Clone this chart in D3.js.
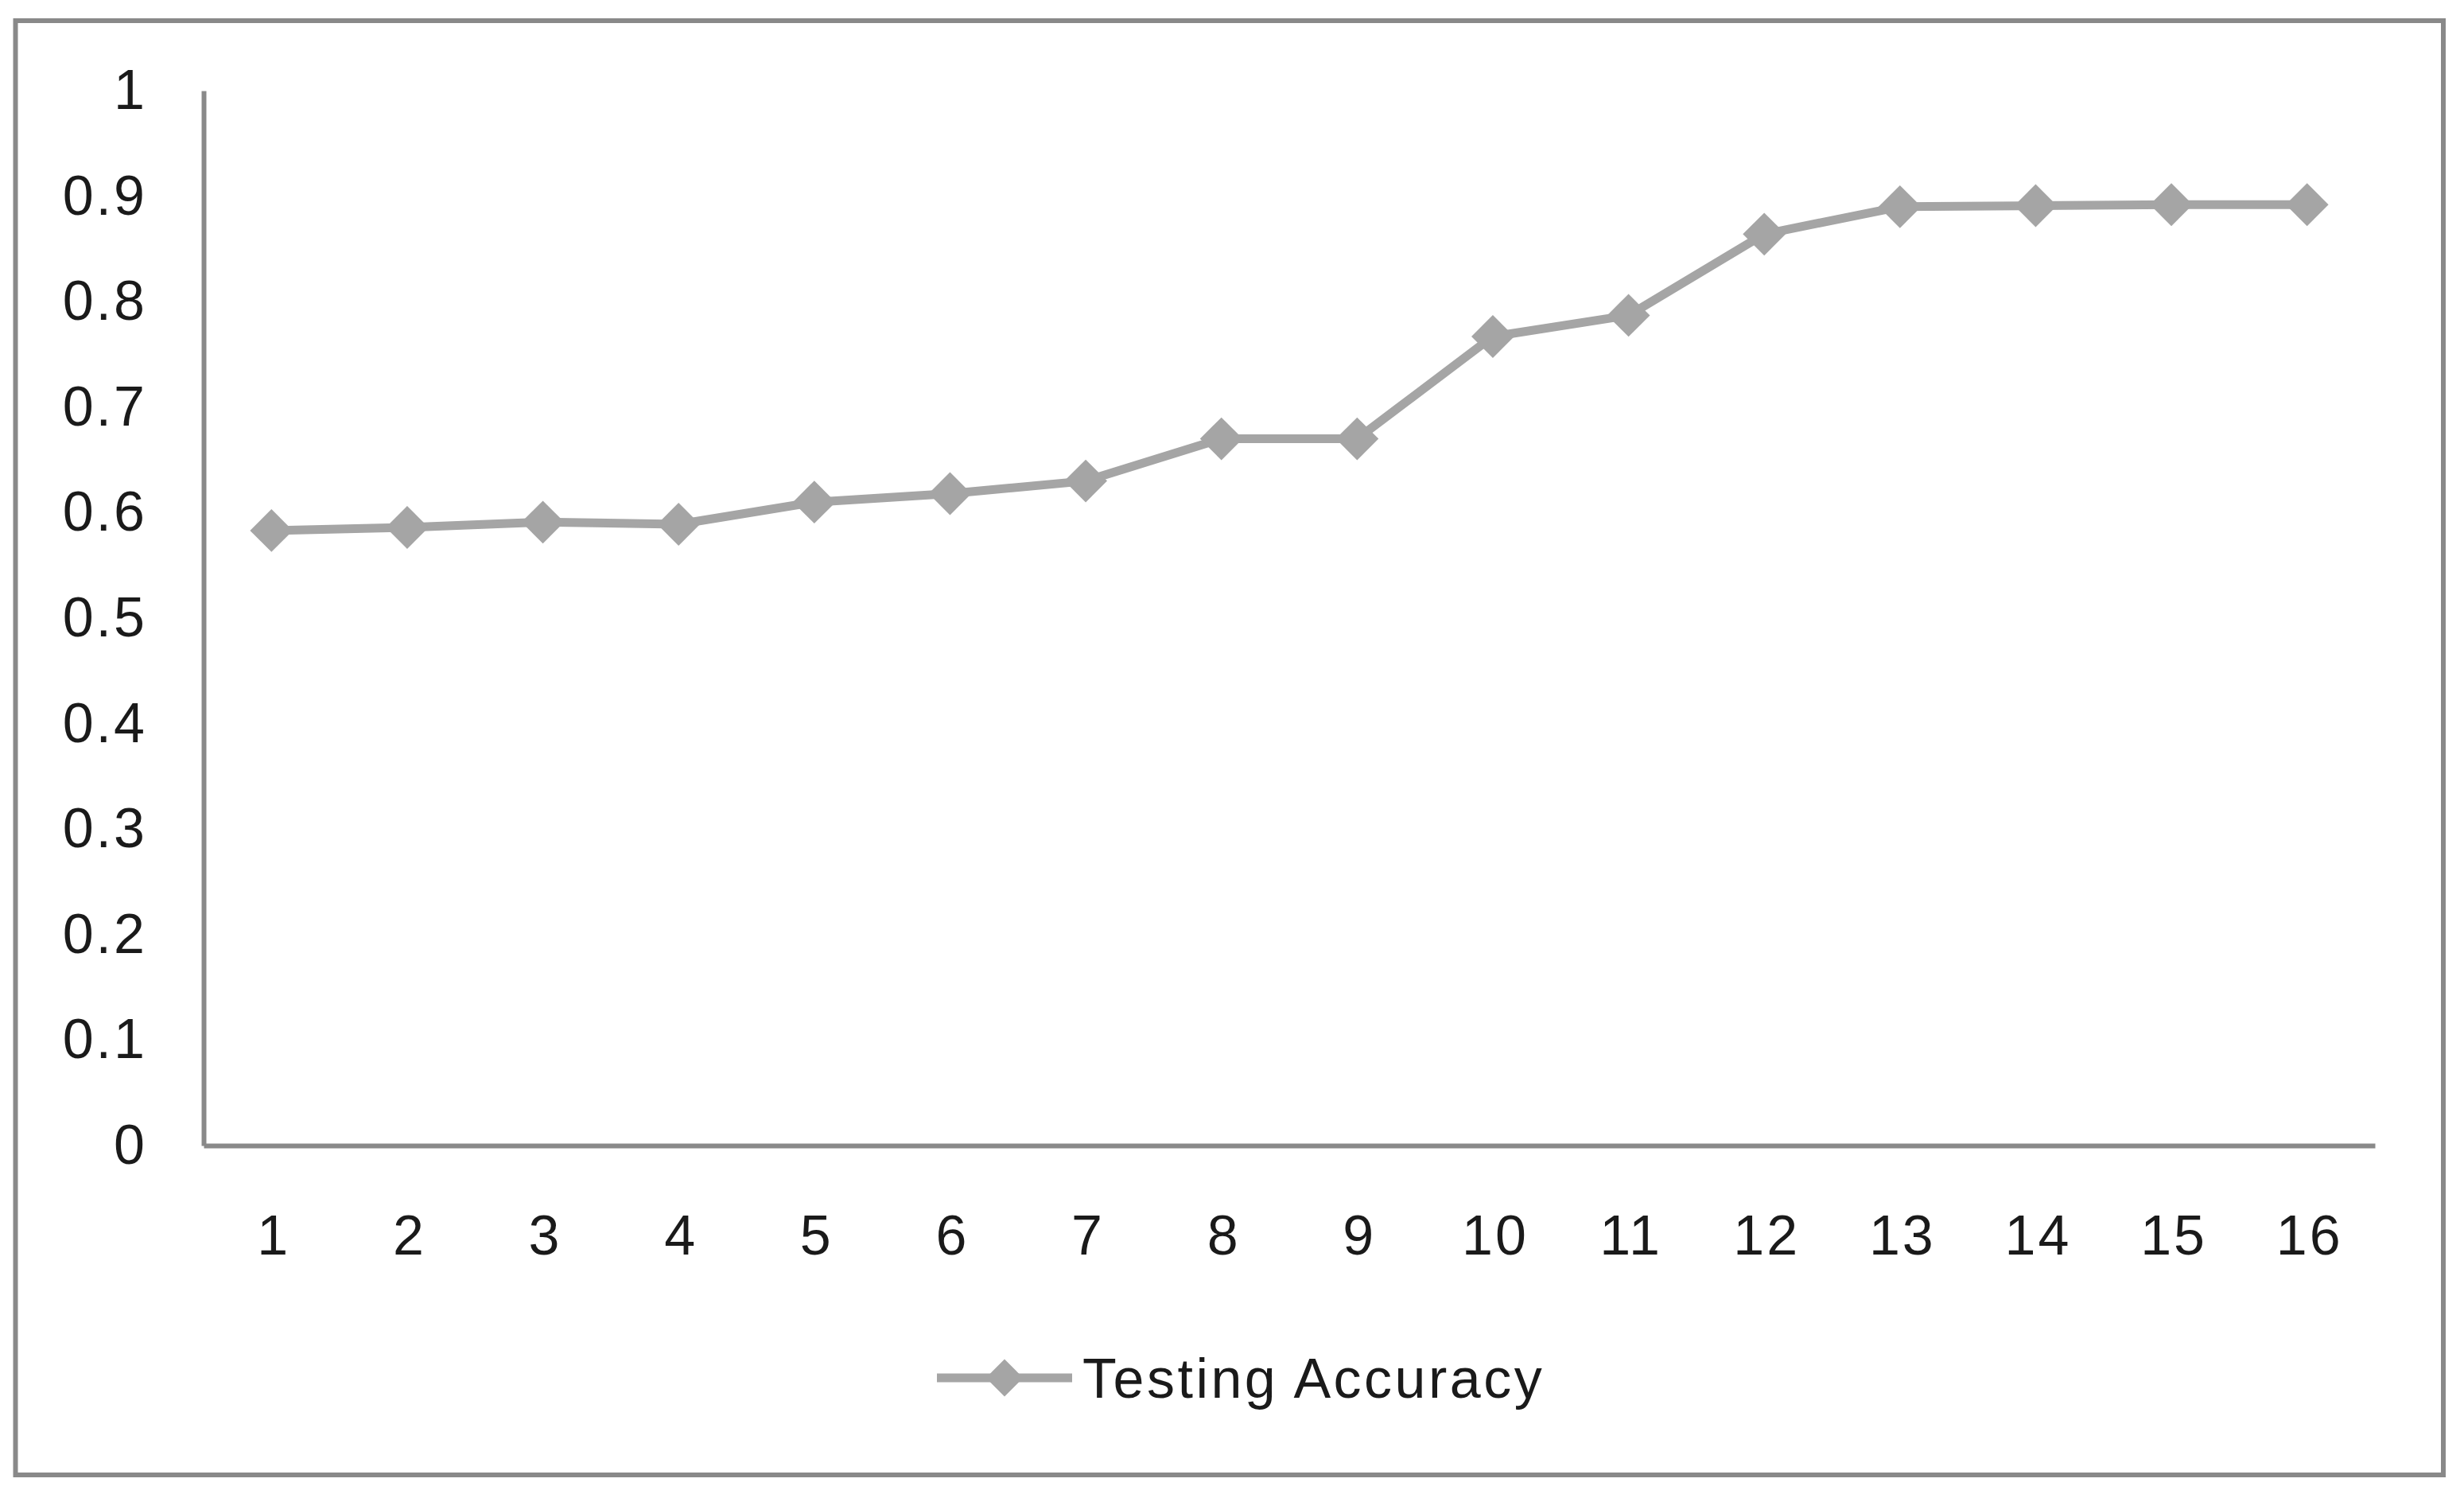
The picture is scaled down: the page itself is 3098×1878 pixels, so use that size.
<!DOCTYPE html>
<html>
<head>
<meta charset="utf-8">
<script src="https://cdn.jsdelivr.net/npm/d3@7"></script>
<style>
  html, body { margin: 0; padding: 0; background: #fff; }
  svg { display: block; }
</style>
</head>
<body>
<script>
const categories = ["1","2","3","4","5","6","7","8","9","10","11","12","13","14","15","16"];
const seriesName = "Testing Accuracy";
const testingAccuracy = [0.583, 0.586, 0.591, 0.589, 0.610, 0.618, 0.630, 0.670, 0.670, 0.767, 0.787, 0.864, 0.890, 0.891, 0.892, 0.892];
const yTicks = [0, 0.1, 0.2, 0.3, 0.4, 0.5, 0.6, 0.7, 0.8, 0.9, 1];
const yTickLabels = ["0","0.1","0.2","0.3","0.4","0.5","0.6","0.7","0.8","0.9","1"];

const W = 3098, H = 1878;
const axisColor = "#898989";
const seriesColor = "#a5a5a5";
const fontFamily = "'Liberation Sans', Arial, sans-serif";
const fontSize = 70;
const textColor = "#1a1a1a";

const svg = d3.select("body").append("svg")
  .attr("width", W).attr("height", H);

svg.append("rect").attr("width", W).attr("height", H).attr("fill", "#fff");

// outer frame
svg.append("rect")
  .attr("x", 19.5).attr("y", 26)
  .attr("width", 3072 - 19.5).attr("height", 1854 - 26)
  .attr("fill", "none").attr("stroke", axisColor).attr("stroke-width", 6);

const x = d3.scaleBand().domain(categories).range([256, 2986]);
const y = d3.scaleLinear().domain([0, 1]).range([1440, 114]);

// y axis
const yAxis = svg.append("g")
  .attr("transform", `translate(${x.range()[0]},0)`)
  .call(d3.axisLeft(y).tickValues(yTicks)
    .tickFormat((d, i) => yTickLabels[i])
    .tickSize(0).tickPadding(71));
yAxis.select(".domain").attr("stroke", axisColor).attr("stroke-width", 6);
yAxis.selectAll("text").attr("font-family", fontFamily).attr("font-size", fontSize)
  .attr("letter-spacing", 3).attr("fill", textColor);

// x axis
const xAxis = svg.append("g")
  .attr("transform", `translate(0,${y(0)})`)
  .call(d3.axisBottom(x).tickSize(0).tickPadding(87));
xAxis.select(".domain").attr("stroke", axisColor).attr("stroke-width", 6);
xAxis.selectAll("text").attr("font-family", fontFamily).attr("font-size", fontSize)
  .attr("letter-spacing", 3).attr("dx", 3).attr("fill", textColor);

// line
const data = categories.map((c, i) => ({ c, v: testingAccuracy[i] }));
const line = d3.line()
  .x(d => x(d.c) + x.bandwidth() / 2)
  .y(d => y(d.v));

svg.append("path")
  .datum(data)
  .attr("d", line)
  .attr("fill", "none")
  .attr("stroke", seriesColor)
  .attr("stroke-width", 11)
  .attr("stroke-linejoin", "round");

const diamond = d3.symbol().type(d3.symbolSquare).size(1450);

svg.append("g").selectAll("path")
  .data(data)
  .join("path")
  .attr("d", diamond)
  .attr("transform", d => `translate(${x(d.c) + x.bandwidth() / 2},${y(d.v)}) rotate(45)`)
  .attr("fill", seriesColor);

// legend
const legend = svg.append("g").attr("transform", "translate(0,1732)");
legend.append("line")
  .attr("x1", 1178).attr("x2", 1348).attr("y1", 0).attr("y2", 0)
  .attr("stroke", seriesColor).attr("stroke-width", 11);
legend.append("path")
  .attr("d", d3.symbol().type(d3.symbolSquare).size(1100))
  .attr("transform", "translate(1263,0) rotate(45)")
  .attr("fill", seriesColor);
legend.append("text")
  .attr("x", 1361).attr("y", 0).attr("dy", "0.35em")
  .attr("font-family", fontFamily).attr("font-size", fontSize)
  .attr("letter-spacing", 3.5)
  .attr("fill", textColor)
  .text(seriesName);
</script>
</body>
</html>
